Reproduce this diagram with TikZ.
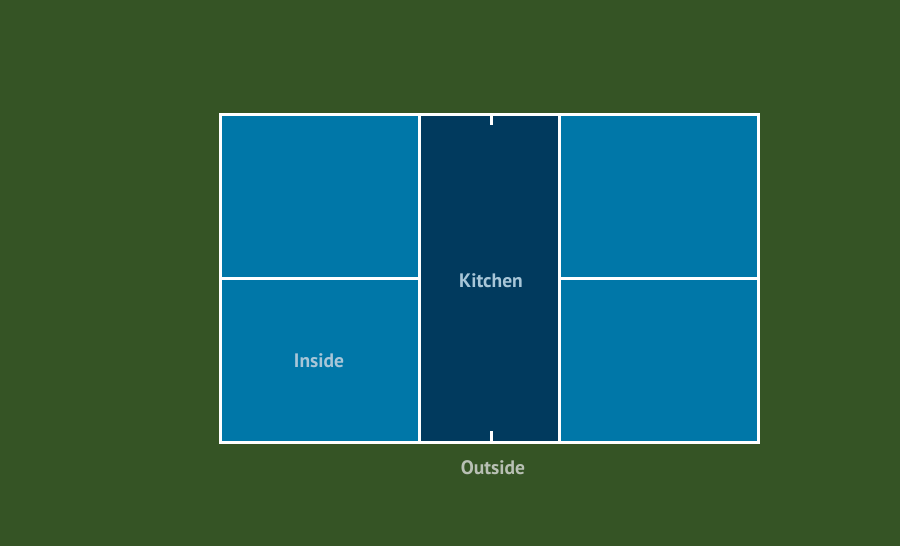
\documentclass[tikz,border=0pt]{standalone}
\usepackage{fontspec}
\setmainfont{PT Sans}
\definecolor{bg}{HTML}{355425}
\definecolor{court}{HTML}{0077A8}
\definecolor{kitchen}{HTML}{013A5E}
\definecolor{lbl}{HTML}{A8C6D8}
\definecolor{outlbl}{HTML}{B8C0B4}
\begin{document}
\begin{tikzpicture}[x=1pt,y=-1pt,
  courtline/.style={draw=white,line width=3pt},
  lab/.style={font=\bfseries\fontsize{19.5}{22}\selectfont,inner sep=0pt}]
\useasboundingbox (0,0) rectangle (900,546);
\fill[bg] (0,0) rectangle (900,546);
\fill[court] (220,114) rectangle (758,442);
\fill[kitchen] (419,114) rectangle (559,442);
\coordinate (tl) at (220,114);
\coordinate (br) at (758,442);
\draw[courtline] (tl) rectangle (br);
\draw[courtline] (419,114) -- (419,442);
\draw[courtline] (559,114) -- (559,442);
\draw[courtline] (220,278.5) -- (419,278.5);
\draw[courtline] (559,278.5) -- (758,278.5);
\draw[courtline] (491,114) -- (491,125);
\draw[courtline] (491,431) -- (491,442);
\node[lab,text=lbl] (inside) at (319,361) {Inside};
\node[lab,text=lbl] (kit) at (491,281) {Kitchen};
\node[lab,text=outlbl] (outside) at (493,468) {Outside};
\end{tikzpicture}
\end{document}
